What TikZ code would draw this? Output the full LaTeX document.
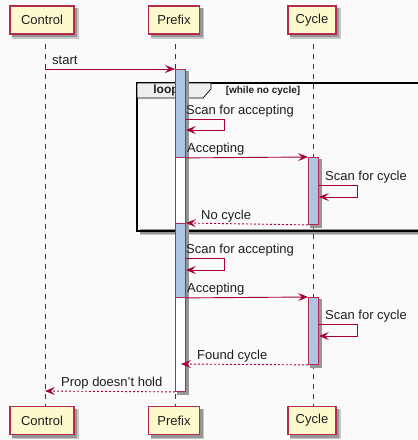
\documentclass[tikz,border=0pt]{standalone}
\usepackage{fontspec}
\setmainfont{Liberation Sans}
\usetikzlibrary{arrows.meta,calc}
\definecolor{rose}{HTML}{A80036}
\definecolor{rosebox}{RGB}{180,45,80}
\definecolor{pbg}{RGB}{252,249,204}
\definecolor{actblue}{RGB}{172,197,229}
\definecolor{bgc}{RGB}{250,250,251}
\definecolor{tabgray}{HTML}{EEEEEE}
\definecolor{txt}{RGB}{30,30,30}
\definecolor{shd}{RGB}{150,150,150}
\definecolor{shdl}{RGB}{200,200,200}
\tikzset{
  part/.style={draw=rosebox,fill=pbg,line width=1.4pt,minimum height=28pt,inner sep=0pt,
    font=\fontsize{13}{15}\selectfont,text=txt},
  life/.style={draw=rose,line width=0.8pt,dash pattern=on 5pt off 5pt},
  msg/.style={draw=rose,line width=0.9pt,-{Stealth[length=10pt,width=8pt,inset=4pt]}},
  ret/.style={msg,dash pattern=on 2pt off 2pt},
  lbl/.style={anchor=base west,inner sep=0pt,font=\fontsize{13}{15}\selectfont,text=txt},
  actw/.style={draw=rosebox,fill=white,line width=0.9pt,minimum width=10pt,inner sep=0pt,anchor=north west},
  actb/.style={draw=rosebox,fill=actblue,line width=0.9pt,minimum width=10pt,inner sep=0pt,anchor=north west},
}
\begin{document}
\begin{tikzpicture}[x=1pt,y=-1pt]
\fill[bgc] (0,0) rectangle (418,440);
\useasboundingbox (0,0) rectangle (418,440);
% loop frame shadow
\fill[shdl] (139.5,229) rectangle (430,235);
\fill[shd] (139.5,229) rectangle (430,233.5);
% lifelines
\coordinate (c1) at (45,34); \coordinate (c2) at (45,406);
\coordinate (p1) at (175,34); \coordinate (p2) at (175,406);
\coordinate (y1) at (313,34); \coordinate (y2) at (313,406);
\draw[life] (c1) -- (c2);
\draw[life] (p1) -- (p2);
\draw[life] (y1) -- (y2);
% loop frame border and tab
\draw[black,line width=1.6pt] (137,83) rectangle (430,231);
\draw[black,fill=tabgray,line width=0.7pt] (137,83) -- (211,83) -- (211,89) -- (203,98) -- (137,98) -- cycle;
\node[inner sep=0pt,font=\fontsize{12}{14}\selectfont\bfseries,text=txt] (looplbl) at (166,90.5) {loop};
\node[inner sep=0pt,font=\fontsize{10}{12}\selectfont\bfseries,text=txt] (cond) at (263,90.5) {[while no cycle]};
% participant shadows
\fill[shdl] (12,8) rectangle (78.5,38.5);
\fill[shd] (12,8) rectangle (77,37);
\fill[shdl] (150.5,8) rectangle (204,38.5);
\fill[shd] (150.5,8) rectangle (202.5,37);
\fill[shdl] (290,8) rectangle (340.5,38.5);
\fill[shd] (290,8) rectangle (339,37);
\fill[shdl] (12,408.5) rectangle (78.5,439);
\fill[shd] (12,408.5) rectangle (77,437.5);
\fill[shdl] (150.5,408.5) rectangle (204,439);
\fill[shd] (150.5,408.5) rectangle (202.5,437.5);
\fill[shdl] (290,408.5) rectangle (340.5,439);
\fill[shd] (290,408.5) rectangle (339,437.5);
% participants
\node[part,minimum width=64pt] (ct) at (42,20) {Control};
\node[part,minimum width=51pt] (pt) at (174,20) {Prefix};
\node[part,minimum width=48pt] (yt) at (312,20) {Cycle};
\node[part,minimum width=64pt] (cb) at (42,420.5) {Control};
\node[part,minimum width=51pt] (pb) at (174,420.5) {Prefix};
\node[part,minimum width=48pt] (yb) at (312,420.5) {Cycle};
% activation shadows
\fill[shd] (185,71) rectangle (188.5,394.5);
\fill[shd] (177,391) rectangle (188.5,394.5);
\fill[shd] (318,159) rectangle (321.5,227.5);
\fill[shd] (310,224) rectangle (321.5,227.5);
\fill[shd] (318,299) rectangle (321.5,367.5);
\fill[shd] (310,364) rectangle (321.5,367.5);
% activations
\node[actw,minimum height=322pt] (pw) at (175,69) {};
\node[actb,minimum height=88pt] (pa1) at (175,69) {};
\node[actb,minimum height=74pt] (pa2) at (175,223) {};
\node[actb,minimum height=67pt] (ya1) at (308,157) {};
\node[actb,minimum height=67pt] (ya2) at (308,297) {};
\coordinate (fc) at (181,364);
% messages
\draw[msg] (c1 |- 0,69) -- (pa1.north west);
\node[lbl] (t1) at (52,64) {start};

\draw[msg] (pa1.east |- 0,119) -- (224,119) -- (224,130) -- (pa1.east |- 0,130);
\node[lbl] (t2) at (186,114) {Scan for accepting};
\draw[msg] (pa1.south east) -- (ya1.north west);
\node[lbl] (t3) at (187,152) {Accepting};
\draw[msg] (ya1.east |- 0,185) -- (357,185) -- (357,197) -- (ya1.east |- 0,197);
\node[lbl] (t4) at (325,180) {Scan for cycle};
\draw[ret] (ya1.south west) -- (pa2.north east);
\node[lbl] (t5) at (201,219) {No cycle};

\draw[msg] (pa2.east |- 0,258) -- (224,258) -- (224,270) -- (pa2.east |- 0,270);
\node[lbl] (t6) at (186,253) {Scan for accepting};
\draw[msg] (pa2.south east) -- (ya2.north west);
\node[lbl] (t7) at (187,292) {Accepting};
\draw[msg] (ya2.east |- 0,324) -- (357,324) -- (357,336) -- (ya2.east |- 0,336);
\node[lbl] (t8) at (325,319) {Scan for cycle};
\draw[ret] (ya2.south west) -- (fc);
\node[lbl] (t9) at (197,359) {Found cycle};
\draw[ret] (pw.south west) -- (c1 |- 0,391);
\node[lbl] (t10) at (61,386) {Prop doesn't hold};
\end{tikzpicture}
\end{document}
